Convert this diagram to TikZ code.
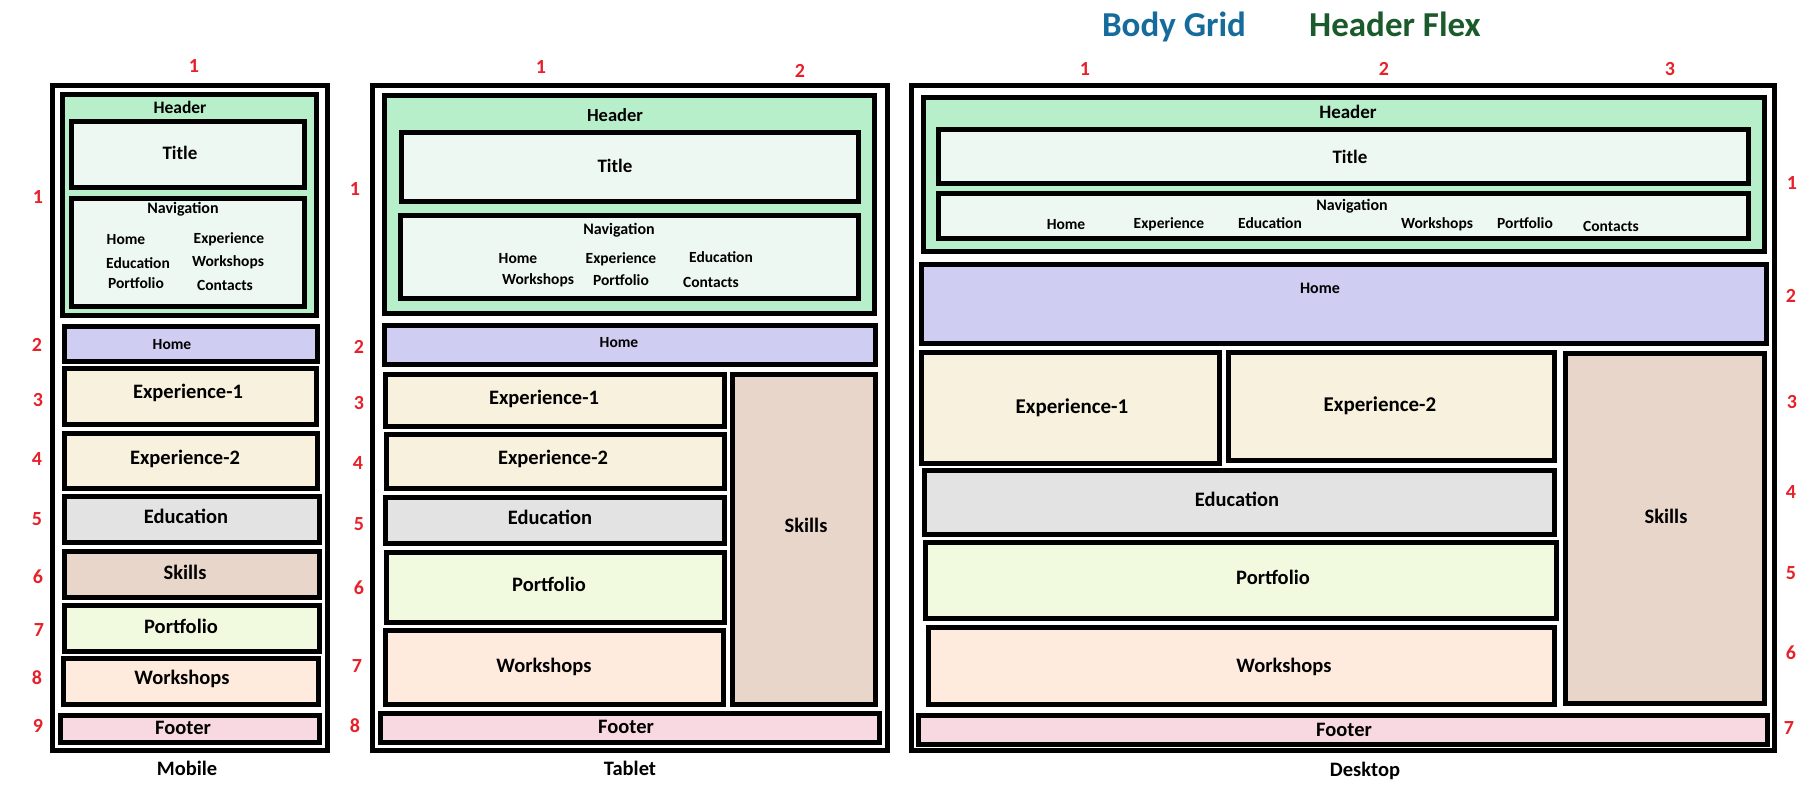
\documentclass[tikz,border=0pt]{standalone}
\usepackage{fontspec}
\setmainfont{Carlito}
\definecolor{hdr}{HTML}{B8EFCB}
\definecolor{mint}{HTML}{EEF8F2}
\definecolor{homec}{HTML}{CFCEF2}
\definecolor{expc}{HTML}{F8F1DE}
\definecolor{educ}{HTML}{E3E3E3}
\definecolor{skic}{HTML}{E8D6CA}
\definecolor{porc}{HTML}{F1F9DF}
\definecolor{worc}{HTML}{FEEBDE}
\definecolor{fooc}{HTML}{F8D9E1}
\definecolor{numred}{HTML}{E8202A}
\definecolor{gridblue}{HTML}{156B9C}
\definecolor{flexgreen}{HTML}{1B5A2B}
\tikzset{
  box/.style={draw=black, line width=5pt, inner sep=0pt, outer sep=0pt},
  txt/.style={inner sep=0pt, text height=0.64em, text depth=0pt, yshift=-3pt},
  num/.style={inner sep=0pt, text height=0.64em, text depth=0pt, yshift=-3pt, text=numred, font=\bfseries\fontsize{20}{20}\selectfont}
}
\newcommand\bx[6]{\node[box, fill=#6, minimum width={#4-#2-5}, minimum height={#5-#3-5}] (#1) at ({(#2+#4)/2},{(#3+#5)/2}) {};}
\newcommand\tx[5]{\node[txt, font=\bfseries\fontsize{#4}{#4}\selectfont] (#1) at (#2,#3) {#5};}
\newcommand\nm[4]{\node[num] (#1) at (#2,#3) {#4};}
\begin{document}
\begin{tikzpicture}[x=1pt,y=-1pt]
\useasboundingbox[fill=white] (0,0) rectangle (1820,800);
% ---------- Mobile ----------
\bx{mout}{50}{83}{330}{753}{white}
\bx{mhdr}{60}{92}{319}{318}{hdr}
\bx{mtitle}{69}{119}{307}{190}{mint}
\bx{mnav}{69}{196}{307}{309}{mint}
\bx{mhome}{62}{324}{320}{364}{homec}
\bx{mexp1}{62}{366}{319}{427}{expc}
\bx{mexp2}{62}{431}{320}{491}{expc}
\bx{medu}{62}{494}{322}{545}{educ}
\bx{mski}{62}{549}{322}{600}{skic}
\bx{mpor}{62}{603}{322}{654}{porc}
\bx{mwor}{61}{656}{321}{707}{worc}
\bx{mfoo}{58}{713}{322}{745}{fooc}
\tx{tmhdr}{180}{107}{17.5}{Header}
\tx{tmtitle}{180}{153}{19}{Title}
\tx{tmnav}{183}{207}{16}{Navigation}
\tx{tmn1}{126}{238}{15.5}{Home}
\tx{tmn2}{229}{237}{15.5}{Experience}
\tx{tmn3}{138}{262}{15.5}{Education}
\tx{tmn4}{228}{260}{15.5}{Workshops}
\tx{tmn5}{136}{282}{15.5}{Portfolio}
\tx{tmn6}{225}{284}{15.5}{Contacts}
\tx{tmhome}{172}{343}{15.5}{Home}
\tx{tmexp1}{188}{392}{20.5}{Experience-1}
\tx{tmexp2}{185}{458}{20.5}{Experience-2}
\tx{tmedu}{186}{517}{20.5}{Education}
\tx{tmski}{185}{573}{20.5}{Skills}
\tx{tmpor}{181}{627}{20.5}{Portfolio}
\tx{tmwor}{182}{678}{20.5}{Workshops}
\tx{tmfoo}{183}{728}{20.5}{Footer}
\tx{tmlab}{187}{769}{20.5}{Mobile}
\nm{mc1}{194}{66}{1}
\nm{mr1}{38}{197}{1}
\nm{mr2}{37}{345}{2}
\nm{mr3}{38}{400}{3}
\nm{mr4}{37}{459}{4}
\nm{mr5}{37}{519}{5}
\nm{mr6}{38}{577}{6}
\nm{mr7}{39}{630}{7}
\nm{mr8}{37}{678}{8}
\nm{mr9}{38}{726}{9}
% ---------- Tablet ----------
\bx{tout}{370}{83}{890}{753}{white}
\bx{thdr}{382}{93}{877}{316}{hdr}
\bx{ttitle}{399}{130}{861}{204}{mint}
\bx{tnav}{398}{213}{861}{301}{mint}
\bx{thome}{382}{323}{878}{367}{homec}
\bx{texp1}{383}{372}{727}{429}{expc}
\bx{texp2}{384}{432}{727}{491}{expc}
\bx{tedu}{383}{495}{727}{546}{educ}
\bx{tpor}{384}{550}{727}{625}{porc}
\bx{twor}{383}{628}{726}{707}{worc}
\bx{tski}{730}{372}{878}{707}{skic}
\bx{tfoo}{378}{711}{882}{745}{fooc}
\tx{tthdr}{615}{115}{18.5}{Header}
\tx{tttitle}{615}{166}{19}{Title}
\tx{ttnav}{619}{228}{16}{Navigation}
\tx{ttn1}{518}{257}{15.5}{Home}
\tx{ttn2}{621}{257}{15.5}{Experience}
\tx{ttn3}{721}{256}{15.5}{Education}
\tx{ttn4}{538}{278}{15.5}{Workshops}
\tx{ttn5}{621}{279}{15.5}{Portfolio}
\tx{ttn6}{711}{281}{15.5}{Contacts}
\tx{tthome}{619}{341}{15.5}{Home}
\tx{ttexp1}{544}{398}{20.5}{Experience-1}
\tx{ttexp2}{553}{458}{20.5}{Experience-2}
\tx{ttedu}{550}{518}{20.5}{Education}
\tx{ttpor}{549}{585}{20.5}{Portfolio}
\tx{ttwor}{544}{666}{20.5}{Workshops}
\tx{ttski}{806}{526}{20.5}{Skills}
\tx{ttfoo}{626}{727}{20.5}{Footer}
\tx{ttlab}{630}{769}{20.5}{Tablet}
\nm{tc1}{541}{67}{1}
\nm{tc2}{800}{71}{2}
\nm{tr1}{355}{189}{1}
\nm{tr2}{359}{347}{2}
\nm{tr3}{359}{403}{3}
\nm{tr4}{358}{463}{4}
\nm{tr5}{359}{524}{5}
\nm{tr6}{359}{588}{6}
\nm{tr7}{357}{666}{7}
\nm{tr8}{355}{726}{8}
% ---------- Desktop ----------
\bx{dout}{909}{83}{1777}{753}{white}
\bx{dhdr}{921}{95}{1767}{254}{hdr}
\bx{dtitle}{936}{127}{1751}{186}{mint}
\bx{dnav}{936}{191}{1751}{241}{mint}
\bx{dhome}{919}{262}{1769}{346}{homec}
\bx{dexp1}{919}{350}{1222}{466}{expc}
\bx{dexp2}{1226}{350}{1557}{463}{expc}
\bx{dski}{1563}{351}{1767}{706}{skic}
\bx{dedu}{922}{468}{1557}{537}{educ}
\bx{dpor}{923}{540}{1559}{621}{porc}
\bx{dwor}{926}{625}{1557}{707}{worc}
\bx{dfoo}{916}{713}{1770}{747}{fooc}
\tx{tdhdr}{1348}{112}{19}{Header}
\tx{tdtitle}{1350}{157}{19}{Title}
\tx{tdnav}{1352}{204}{16}{Navigation}
\tx{tdn1}{1066}{223}{15.5}{Home}
\tx{tdn2}{1169}{222}{15.5}{Experience}
\tx{tdn3}{1270}{222}{15.5}{Education}
\tx{tdn4}{1437}{222}{15.5}{Workshops}
\tx{tdn5}{1525}{222}{15.5}{Portfolio}
\tx{tdn6}{1611}{225}{15.5}{Contacts}
\tx{tdhome}{1320}{287}{16}{Home}
\tx{tdexp1}{1072}{407}{21}{Experience-1}
\tx{tdexp2}{1380}{405}{21}{Experience-2}
\tx{tdski}{1666}{517}{20.5}{Skills}
\tx{tdedu}{1237}{500}{20.5}{Education}
\tx{tdpor}{1273}{578}{20.5}{Portfolio}
\tx{tdwor}{1284}{666}{20.5}{Workshops}
\tx{tdfoo}{1344}{730}{20.5}{Footer}
\tx{tdlab}{1365}{770}{20.5}{Desktop}
\node[txt, font=\bfseries\fontsize{35}{35}\selectfont, text=gridblue] (bodygrid) at (1174,30) {Body Grid};
\node[txt, font=\bfseries\fontsize{35}{35}\selectfont, text=flexgreen] (headerflex) at (1395,30) {Header Flex};
\nm{dc1}{1085}{69}{1}
\nm{dc2}{1384}{69}{2}
\nm{dc3}{1670}{69}{3}
\nm{dr1}{1792}{183}{1}
\nm{dr2}{1791}{296}{2}
\nm{dr3}{1792}{402}{3}
\nm{dr4}{1791}{492}{4}
\nm{dr5}{1791}{573}{5}
\nm{dr6}{1791}{653}{6}
\nm{dr7}{1789}{728}{7}
\end{tikzpicture}
\end{document}
